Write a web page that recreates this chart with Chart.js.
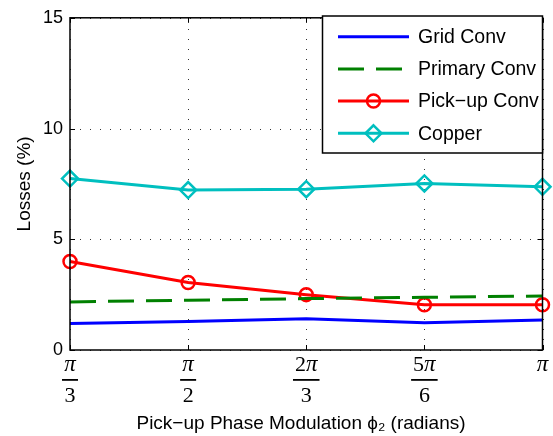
<!DOCTYPE html>
<html><head><meta charset="utf-8">
<script src="https://cdn.jsdelivr.net/npm/chart.js@4"></script>
<style>html,body{margin:0;padding:0;background:#fff}#wrap{width:553px;height:436px}</style>
</head><body><div id="wrap"><canvas id="c" width="553" height="436"></canvas></div>
<script>
const categories = ['π/3', 'π/2', '2π/3', '5π/6', 'π'];
const tickCoefficients = ['', '', '2', '5', ''];
const tickDenominators = ['3', '2', '3', '6', ''];
const yTicks = [0, 5, 10, 15];
const gridConv = [1.20, 1.29, 1.41, 1.23, 1.35];
const primaryConv = [2.17, 2.25, 2.32, 2.38, 2.44];
const pickupConv = [4.00, 3.05, 2.50, 2.04, 2.04];
const copper = [7.74, 7.22, 7.26, 7.52, 7.37];
const xTitle = 'Pick\u2212up Phase Modulation \u03D5\u2082 (radians)';
const yTitle = 'Losses (%)';

const SANS = '"Liberation Sans", Arial, Helvetica, sans-serif';
const SERIF = '"Liberation Serif", "Times New Roman", serif';

const decor = {
  id: 'decor',
  beforeDatasetsDraw(chart) {
    const ctx = chart.ctx, a = chart.chartArea;
    const xs = chart.scales.x, ys = chart.scales.y;
    ctx.save();
    ctx.strokeStyle = '#333';
    ctx.lineWidth = 1;
    ctx.setLineDash([1, 9]);
    categories.forEach((c, i) => {
      const x = Math.round(xs.getPixelForValue(i)) + 0.5;
      ctx.beginPath(); ctx.moveTo(x, a.bottom); ctx.lineTo(x, a.top); ctx.stroke();
    });
    yTicks.forEach(v => {
      const y = Math.round(ys.getPixelForValue(v)) + 0.5;
      ctx.beginPath(); ctx.moveTo(a.left, y); ctx.lineTo(a.right, y); ctx.stroke();
    });
    ctx.restore();
  },
  afterDatasetsDraw(chart) {
    const ctx = chart.ctx, a = chart.chartArea;
    const xs = chart.scales.x, ys = chart.scales.y;
    ctx.save();
    ctx.strokeStyle = '#000'; ctx.lineWidth = 1.5; ctx.setLineDash([]);
    ctx.strokeRect(a.left, a.top, a.right - a.left, a.bottom - a.top);
    ctx.lineWidth = 1;
    yTicks.forEach(v => {
      const y = Math.round(ys.getPixelForValue(v)) + 0.5;
      ctx.beginPath(); ctx.moveTo(a.left, y); ctx.lineTo(a.left + 5, y); ctx.stroke();
      ctx.beginPath(); ctx.moveTo(a.right, y); ctx.lineTo(a.right - 5, y); ctx.stroke();
    });
    categories.forEach((c, i) => {
      const x = Math.round(xs.getPixelForValue(i)) + 0.5;
      ctx.beginPath(); ctx.moveTo(x, a.bottom); ctx.lineTo(x, a.bottom - 5); ctx.stroke();
      ctx.beginPath(); ctx.moveTo(x, a.top); ctx.lineTo(x, a.top + 5); ctx.stroke();
    });
    // x tick labels as fractions
    ctx.fillStyle = '#000';
    ctx.textBaseline = 'alphabetic';
    categories.forEach((c, i) => {
      const x = xs.getPixelForValue(i);
      ctx.font = '22px ' + SERIF;
      const cw = tickCoefficients[i] ? ctx.measureText(tickCoefficients[i]).width : 0;
      ctx.font = 'italic 23px ' + SERIF;
      const pw = ctx.measureText('π').width;
      const total = cw + pw;
      let sx = x - total / 2;
      ctx.textAlign = 'left';
      if (cw) {
        ctx.font = '22px ' + SERIF;
        ctx.fillText(tickCoefficients[i], sx, 371);
        sx += cw;
      }
      ctx.font = 'italic 23px ' + SERIF;
      ctx.fillText('π', sx, 371);
      if (tickDenominators[i]) {
        const w = Math.max(total, 12) + 4;
        ctx.fillRect(x - w / 2, 379, w, 1.8);
        ctx.textAlign = 'center';
        ctx.font = '22px ' + SERIF;
        ctx.fillText(tickDenominators[i], x, 402);
      }
    });
    ctx.textAlign = 'center';
    ctx.font = '19px ' + SANS;
    ctx.fillText(xTitle, 301, 429);
    ctx.save();
    ctx.translate(30, (a.top + a.bottom) / 2);
    ctx.rotate(-Math.PI / 2);
    ctx.fillText(yTitle, 0, 0);
    ctx.restore();
    // legend
    const lx = 322.5, ly = 16, lw = a.right - lx, lh = 137;
    ctx.fillStyle = '#fff';
    ctx.fillRect(lx, ly, lw, lh);
    ctx.strokeStyle = '#000'; ctx.lineWidth = 1.5;
    ctx.strokeRect(lx, ly, lw, lh);
    const rows = [36.7, 69, 101, 133.3];
    chart.data.datasets.forEach((ds, i) => {
      const y = rows[i];
      ctx.save();
      ctx.strokeStyle = ds.borderColor; ctx.lineWidth = ds.borderWidth;
      ctx.setLineDash(ds.borderDash || []);
      ctx.beginPath(); ctx.moveTo(338, y); ctx.lineTo(409, y); ctx.stroke();
      ctx.setLineDash([]);
      if (ds.pointRadius > 0) {
        ctx.lineWidth = ds.pointBorderWidth;
        ctx.strokeStyle = ds.borderColor;
        const cx = 373.5, r = ds.pointRadius;
        ctx.beginPath();
        if (ds.pointStyle === 'circle') {
          ctx.arc(cx, y, r, 0, Math.PI * 2);
        } else {
          ctx.moveTo(cx, y - r); ctx.lineTo(cx + r, y); ctx.lineTo(cx, y + r); ctx.lineTo(cx - r, y); ctx.closePath();
        }
        ctx.stroke();
      }
      ctx.fillStyle = '#000';
      ctx.textAlign = 'left'; ctx.textBaseline = 'middle';
      ctx.font = '19.5px ' + SANS;
      ctx.fillText(ds.label, 418, y + 1);
      ctx.restore();
    });
    ctx.restore();
  }
};

new Chart(document.getElementById('c'), {
  type: 'line',
  data: {
    labels: categories,
    datasets: [
      { label: 'Grid Conv', data: gridConv, borderColor: '#0000ff', borderWidth: 3, pointRadius: 0, tension: 0 },
      { label: 'Primary Conv', data: primaryConv, borderColor: '#008000', borderWidth: 3, borderDash: [26, 12], pointRadius: 0, tension: 0 },
      { label: 'Pick\u2212up Conv', data: pickupConv, borderColor: '#ff0000', borderWidth: 3, pointStyle: 'circle', pointRadius: 6.5, pointBorderWidth: 2.5, pointBackgroundColor: 'rgba(0,0,0,0)', pointBorderColor: '#ff0000', tension: 0 },
      { label: 'Copper', data: copper, borderColor: '#00bfbf', borderWidth: 3, pointStyle: 'rectRot', pointRadius: 8, pointBorderWidth: 2.5, pointBackgroundColor: 'rgba(0,0,0,0)', pointBorderColor: '#00bfbf', tension: 0 }
    ]
  },
  options: {
    responsive: false,
    animation: false,
    layout: { padding: { left: 0, right: 8, top: 16, bottom: 0 } },
    plugins: { legend: { display: false }, tooltip: { enabled: false } },
    elements: { point: { hitRadius: 0, hoverRadius: 0 } },
    scales: {
      x: {
        offset: false,
        grid: { display: false },
        border: { display: false },
        ticks: { display: false },
        afterFit(s) { s.height = 86; }
      },
      y: {
        min: 0, max: 15,
        grid: { display: false, drawTicks: false },
        border: { display: false },
        ticks: { stepSize: 5, padding: 7, color: '#000', font: { family: SANS, size: 18 } },
        afterFit(s) { s.width = 70; }
      }
    }
  },
  plugins: [decor]
});
</script>
</body></html>
